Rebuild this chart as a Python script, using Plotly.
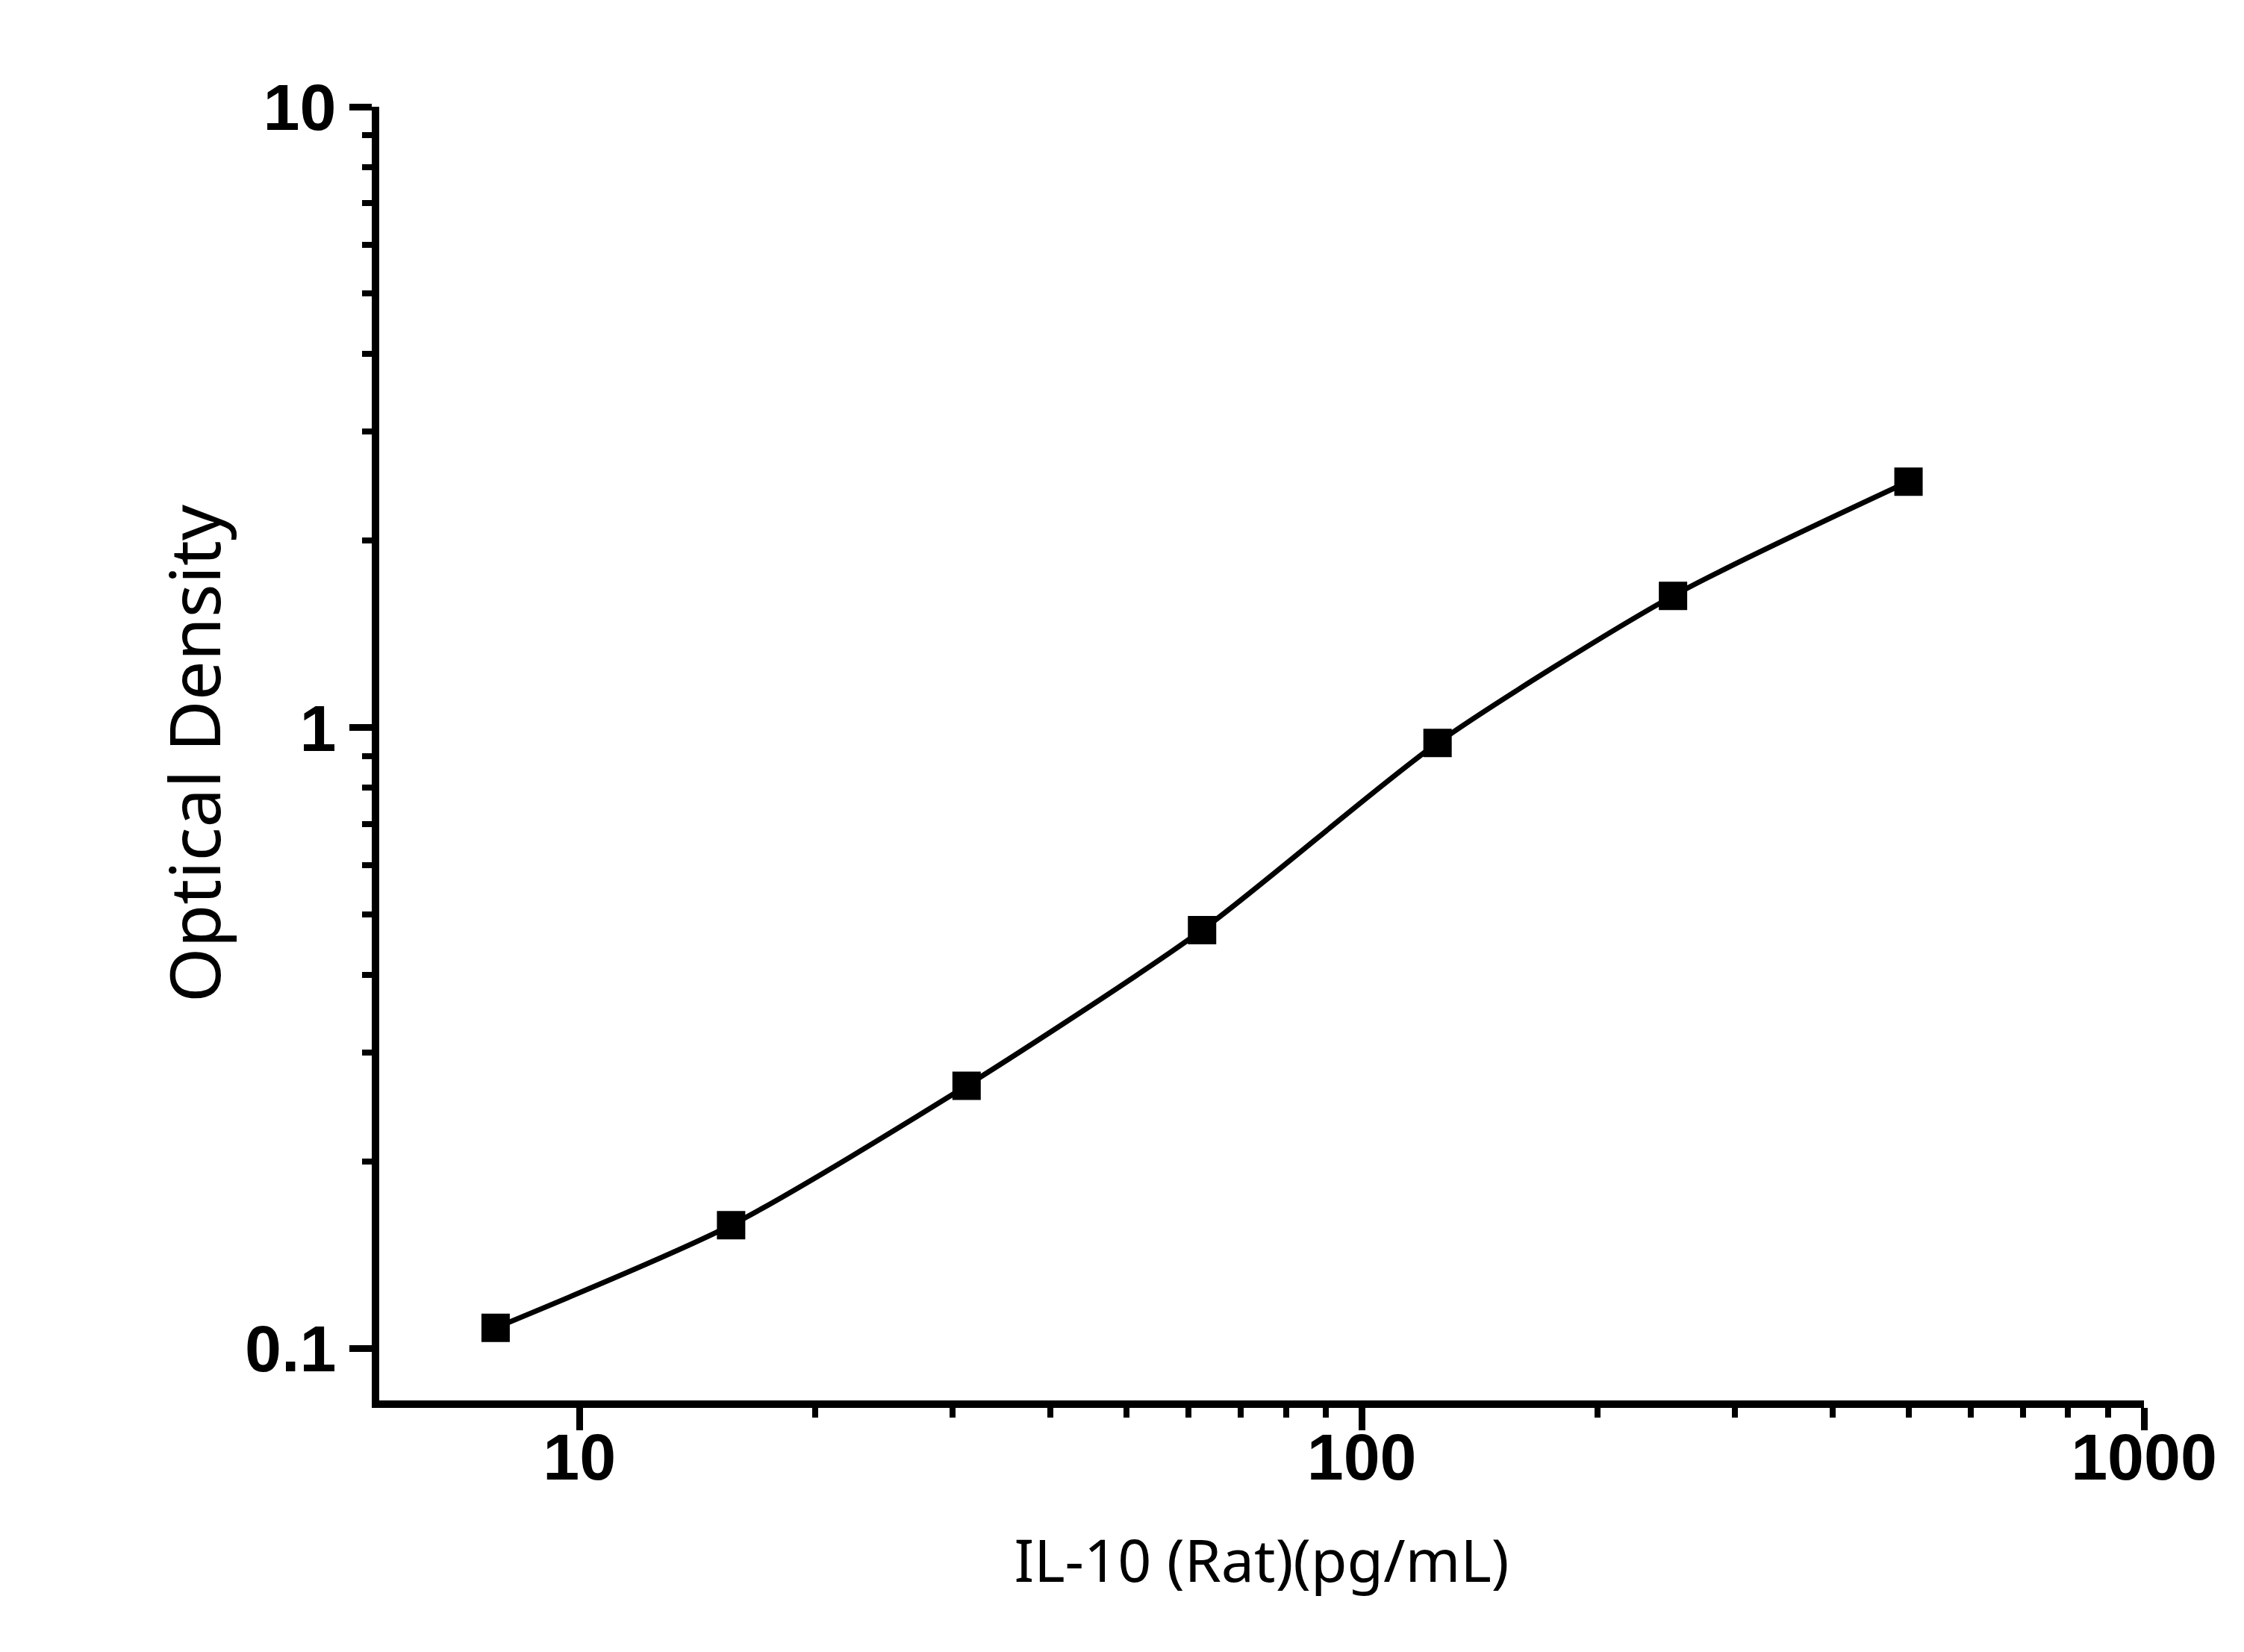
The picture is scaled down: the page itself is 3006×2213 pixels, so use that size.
import plotly.graph_objects as go

# standard curve: concentration (pg/mL) vs optical density
concentration = [7.8125, 15.625, 31.25, 62.5, 125, 250, 500]
optical_density = [0.108, 0.158, 0.265, 0.472, 0.945, 1.63, 2.49]

x_ticks = [10, 100, 1000]
x_tick_text = ["10", "100", "1000"]
x_minor = [20, 30, 40, 50, 60, 70, 80, 90, 200, 300, 400, 500, 600, 700, 800, 900]
y_ticks = [0.1, 1, 10]
y_tick_text = ["0.1", "1", "10"]
y_minor = [0.2, 0.3, 0.4, 0.5, 0.6, 0.7, 0.8, 0.9, 2, 3, 4, 5, 6, 7, 8, 9]

fig = go.Figure()

fig.add_trace(go.Scatter(
    x=concentration,
    y=optical_density,
    mode="lines+markers",
    line=dict(color="black", width=7, shape="spline", smoothing=0.7),
    marker=dict(symbol="square", size=38, color="black", line=dict(width=0)),
    showlegend=False,
))

tick_font = dict(family="Liberation Sans", size=88, color="black", weight="bold")

axis_common = dict(
    type="log",
    showgrid=False,
    zeroline=False,
    showline=True,
    linecolor="black",
    linewidth=10,
    ticks="outside",
    ticklen=30,
    tickwidth=9,
    tickcolor="black",
    tickfont=tick_font,
    automargin=False,
)

fig.update_layout(
    width=3006,
    height=2213,
    margin=dict(l=500, r=142, t=135, b=345),
    paper_bgcolor="white",
    plot_bgcolor="white",
    xaxis=dict(
        axis_common,
        range=[0.744, 3.0],
        tickvals=x_ticks,
        ticktext=x_tick_text,
        ticklabelstandoff=-40,
        minor=dict(ticks="outside", ticklen=13, tickwidth=8, tickcolor="black",
                   tickvals=x_minor, showgrid=False),
        title=dict(text="IL-10 (Rat)(pg/mL)",
                   font=dict(family="Noto Sans", size=79, color="black"),
                   standoff=68),
    ),
    yaxis=dict(
        axis_common,
        range=[-1.0836, 1.0],
        tickvals=y_ticks,
        ticktext=y_tick_text,
        ticklabelstandoff=0,
        minor=dict(ticks="outside", ticklen=13, tickwidth=8, tickcolor="black",
                   tickvals=y_minor, showgrid=False),
        title=dict(text="Optical Density",
                   font=dict(family="Noto Sans", size=94, color="black"),
                   standoff=5),
    ),
)

fig.write_html("out.html")
